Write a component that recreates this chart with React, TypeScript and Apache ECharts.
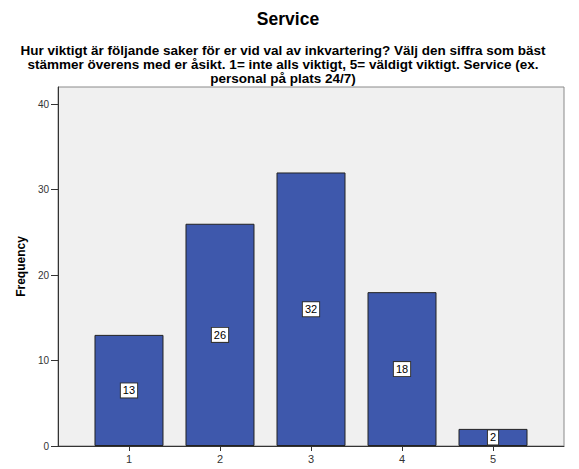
import React, { useEffect, useRef } from "react";
import * as echarts from "echarts";

const categories = [1, 2, 3, 4, 5];
const frequencies = [13, 26, 32, 18, 2];
const yTicks = [0, 10, 20, 30, 40];

const titleText = "Service";
const subtitleLines = [
  "Hur viktigt är följande saker för er vid val av inkvartering? Välj den siffra som bäst",
  "stämmer överens med er åsikt. 1= inte alls viktigt, 5= väldigt viktigt. Service (ex.",
  "personal på plats 24/7)",
];
const yAxisTitle = "Frequency";

export default function App() {
  const ref = useRef<HTMLDivElement>(null);
  useEffect(() => {
    if (!ref.current) return;
    const chart = echarts.init(ref.current, undefined, { renderer: "svg" });
    const font = "Arial, 'Liberation Sans', sans-serif";
    chart.setOption({
      animation: false,
      title: [
        {
          text: titleText,
          left: 283,
          textAlign: "center",
          top: 5,
          textStyle: { fontFamily: font, fontSize: 17.5, fontWeight: "bold", color: "#000" },
        },
        {
          text: subtitleLines.join("\n"),
          left: 278,
          textAlign: "center",
          top: 38,
          textStyle: {
            fontFamily: font,
            fontSize: 13.5,
            fontWeight: "bold",
            color: "#000",
            lineHeight: 14,
          },
        },
      ],
      grid: {
        left: 58,
        right: 15,
        top: 87,
        bottom: 23,
        show: true,
        backgroundColor: "#f0f0f0",
        borderColor: "#8a8a8a",
        borderWidth: 1,
      },
      xAxis: {
        type: "value",
        min: 0.22,
        max: 5.78,
        splitLine: { show: false },
        axisLine: { show: true, lineStyle: { color: "#333", width: 1 } },
        axisTick: { show: true, length: 5, lineStyle: { color: "#333" }, customValues: categories },
        axisLabel: {
          customValues: categories,
          fontFamily: font,
          fontSize: 11,
          color: "#333",
          margin: 7,
        },
      },
      yAxis: {
        type: "value",
        min: 0,
        max: 42,
        name: yAxisTitle,
        nameLocation: "middle",
        nameGap: 30,
        nameTextStyle: { fontFamily: font, fontSize: 12, fontWeight: "bold", color: "#000" },
        splitLine: { show: false },
        axisLine: { show: true, lineStyle: { color: "#333", width: 1 } },
        axisTick: { show: true, length: 7, lineStyle: { color: "#333" }, customValues: yTicks },
        axisLabel: {
          customValues: yTicks,
          fontFamily: font,
          fontSize: 10,
          color: "#333",
          margin: 9,
        },
      },
      series: [
        {
          type: "bar",
          data: categories.map((c, i) => [c, frequencies[i]]),
          barWidth: 69,
          itemStyle: { color: "#3e58ac", borderColor: "#222", borderWidth: 1 },
          label: {
            show: true,
            position: "inside",
            formatter: (p: any) => String(p.value[1]),
            fontFamily: font,
            fontSize: 11,
            color: "#000",
            backgroundColor: "#fff",
            borderColor: "#333",
            borderWidth: 1,
            padding: [2, 2, 1, 2],
          },
        },
      ],
    });
    return () => chart.dispose();
  }, []);
  return <div ref={ref} style={{ width: 579, height: 469, position: "absolute", left: 0, top: 0 }} />;
}
